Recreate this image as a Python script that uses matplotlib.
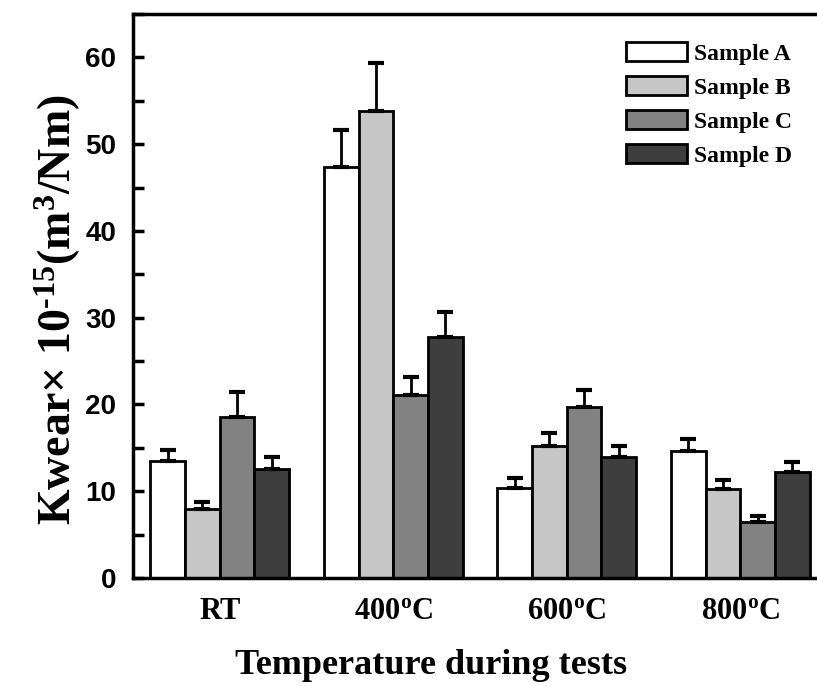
import numpy as np
import matplotlib
matplotlib.use("Agg")
import matplotlib.pyplot as plt
from matplotlib.ticker import MultipleLocator

# data
groups = ["RT", "400$^{\\rm o}$C", "600$^{\\rm o}$C", "800$^{\\rm o}$C"]
samples = ["Sample A", "Sample B", "Sample C", "Sample D"]
sample_a = [13.5, 47.4, 10.4, 14.6]
sample_b = [8.0, 53.8, 15.2, 10.3]
sample_c = [18.5, 21.1, 19.7, 6.4]
sample_d = [12.6, 27.8, 13.9, 12.2]
err_a = [1.3, 4.2, 1.1, 1.4]
err_b = [0.8, 5.6, 1.5, 1.0]
err_c = [2.9, 2.1, 2.0, 0.7]
err_d = [1.3, 2.9, 1.3, 1.2]
colors = ["#ffffff", "#c6c6c6", "#828282", "#3e3e3e"]

plt.rcParams["mathtext.fontset"] = "custom"
plt.rcParams["mathtext.rm"] = "Liberation Serif:bold"
plt.rcParams["mathtext.it"] = "Liberation Serif:bold"
plt.rcParams["mathtext.bf"] = "Liberation Serif:bold"

fig = plt.figure(figsize=(8.17, 6.86), dpi=100)
ax = fig.add_axes([133 / 817, 1 - 578 / 686, 694 / 817, 564 / 686])

x = np.arange(len(groups))
width = 0.2
vals = [sample_a, sample_b, sample_c, sample_d]
errs = [err_a, err_b, err_c, err_d]
for i in range(4):
    pos = x + (i - 1.5) * width
    ax.bar(pos, vals[i], width, color=colors[i], edgecolor="black",
           linewidth=2, label=samples[i], zorder=2)
    ax.errorbar(pos, vals[i], yerr=[np.zeros(4), errs[i]], fmt="none",
                ecolor="black", elinewidth=2, capsize=6, capthick=3, zorder=3)

ax.set_xlim(-0.5, 3.5)
ax.set_ylim(0, 65)
ax.yaxis.set_major_locator(MultipleLocator(10))
ax.yaxis.set_minor_locator(MultipleLocator(5))
ax.set_yticks(np.arange(0, 61, 10))
ax.set_xticks(x)
ax.set_xticklabels(groups, fontfamily="Liberation Serif", fontweight="bold", fontsize=22)
ax.tick_params(axis="x", length=0, pad=14)
ax.tick_params(axis="y", which="major", direction="in", length=8, width=2.5,
               labelsize=20, pad=12)
ax.tick_params(axis="y", which="minor", direction="in", length=8, width=2.5)
for lab in ax.get_yticklabels():
    lab.set_fontfamily("Liberation Sans")
    lab.set_fontweight("bold")

for s in ["left", "bottom", "top"]:
    ax.spines[s].set_linewidth(2.5)
ax.spines["right"].set_visible(False)

ax.set_ylabel("Kwear\u00d7 10$^{\\mathrm{\u2010}15}$(m$^{3}$/Nm)", fontfamily="Liberation Serif",
              fontweight="bold", fontsize=33)
ax.yaxis.set_label_coords(-0.072, 0.475)
ax.set_xlabel("Temperature during tests", fontfamily="Liberation Serif",
              fontweight="bold", fontsize=26)
ax.xaxis.set_label_coords(0.43, -0.125)

leg = ax.legend(loc="upper right", bbox_to_anchor=(0.97, 0.975), frameon=False,
                prop={"family": "Liberation Serif", "weight": "bold", "size": 17},
                handlelength=2.6, handleheight=0.85, labelspacing=0.48,
                handletextpad=0.3, borderaxespad=0.2)

fig.savefig("out.png", dpi=100)
